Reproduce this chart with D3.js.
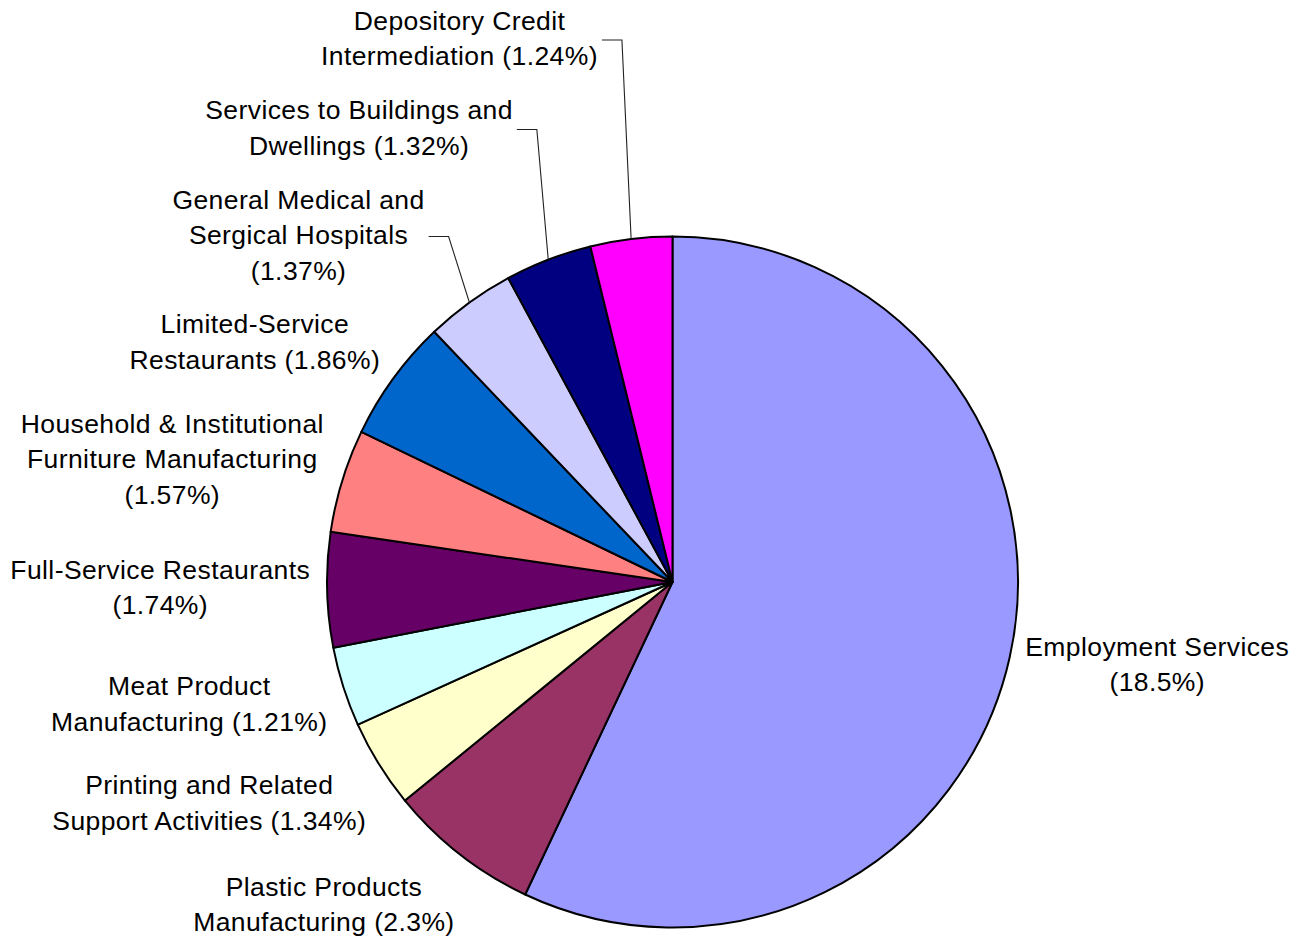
<!DOCTYPE html>
<html>
<head>
<meta charset="utf-8">
<script src="https://cdn.jsdelivr.net/npm/d3@7"></script>
<style>
  html, body { margin: 0; padding: 0; background: #ffffff; }
  svg { display: block; }
  .lbl { font-family: "Liberation Sans", Arial, sans-serif; font-size: 26.5px; letter-spacing: 0.4px; fill: #000; }
</style>
</head>
<body>
<svg id="chart" width="1295" height="939"></svg>
<script>
// Industry shares (percent), clockwise from 12 o'clock
const categories = [
  "Employment Services",
  "Plastic Products Manufacturing",
  "Printing and Related Support Activities",
  "Meat Product Manufacturing",
  "Full-Service Restaurants",
  "Household & Institutional Furniture Manufacturing",
  "Limited-Service Restaurants",
  "General Medical and Sergical Hospitals",
  "Services to Buildings and Dwellings",
  "Depository Credit Intermediation"
];
const shares = [18.5, 2.3, 1.34, 1.21, 1.74, 1.57, 1.86, 1.37, 1.32, 1.24];

// Label text with line breaks; {v} is replaced by the share
const labelTemplates = [
  "Employment Services\n({v}%)",
  "Plastic Products\nManufacturing ({v}%)",
  "Printing and Related\nSupport Activities ({v}%)",
  "Meat Product\nManufacturing ({v}%)",
  "Full-Service Restaurants\n({v}%)",
  "Household & Institutional\nFurniture Manufacturing\n({v}%)",
  "Limited-Service\nRestaurants ({v}%)",
  "General Medical and\nSergical Hospitals\n({v}%)",
  "Services to Buildings and\nDwellings ({v}%)",
  "Depository Credit\nIntermediation ({v}%)"
];

const sliceColors = ["#9999FF", "#993366", "#FFFFCC", "#CCFFFF", "#660066",
                     "#FF8080", "#0066CC", "#CCCCFF", "#000080", "#FF00FF"];

// Labels pulled away from their slice get a leader line
const withLeader = [false, false, false, false, false, false, false, true, true, true];
// Manual label placement adjustments [dx, dy]
const labelShift = [[1, -4.5], [4, 10], [0, 11.5], [-1.5, 1.3], [-2, -4],
                    [-4, -2], [-1, -7.5], [-36, -12.7], [-30, -85], [-31.4, -150.9]];

const cx = 672.5, cy = 582, R = 345.5;
const fontSize = 26.5, lineH = 35.5, labelGap = 15;

const rows = categories.map((name, i) => ({
  name, value: shares[i], color: sliceColors[i],
  lines: labelTemplates[i].replace("{v}", String(shares[i])).split("\n"),
  leader: withLeader[i], shift: labelShift[i]
}));

const svg = d3.select("#chart");
const pie = d3.pie().value(d => d.value).sort(null);
const arc = d3.arc().innerRadius(0).outerRadius(R);
const arcs = pie(rows);

const g = svg.append("g").attr("transform", `translate(${cx},${cy})`);

g.selectAll("path.slice")
  .data(arcs)
  .join("path")
  .attr("class", "slice")
  .attr("d", arc)
  .attr("fill", d => d.data.color)
  .attr("stroke", "#000")
  .attr("stroke-width", 2)
  .attr("stroke-linejoin", "round");

const leaders = g.append("g");
const labels = g.append("g");

arcs.forEach(d => {
  const mid = (d.startAngle + d.endAngle) / 2;
  const s = Math.sin(mid), c = Math.cos(mid);
  const px = s * (R + labelGap), py = -c * (R + labelGap);

  const t = labels.append("text").attr("class", "lbl").attr("text-anchor", "middle");
  const spans = d.data.lines.map(line => t.append("tspan").text(line));
  const w = d3.max(spans, sp => sp.node().getComputedTextLength());
  const h = d.data.lines.length * lineH;

  const bx = px + Math.sign(s) * w / 2 + d.data.shift[0];
  const by = py - c * h / 2 + d.data.shift[1];

  spans.forEach((sp, i) => {
    sp.attr("x", bx).attr("y", by - h / 2 + lineH / 2 + i * lineH + 0.36 * fontSize);
  });

  if (d.data.leader) {
    const right = bx + w / 2;
    leaders.append("path")
      .attr("d", d3.line()([[s * R, -c * R], [right + 24, by + 2], [right + 4, by + 2]]))
      .attr("fill", "none")
      .attr("stroke", "#222")
      .attr("stroke-width", 1.1);
  }
});
</script>
</body>
</html>
